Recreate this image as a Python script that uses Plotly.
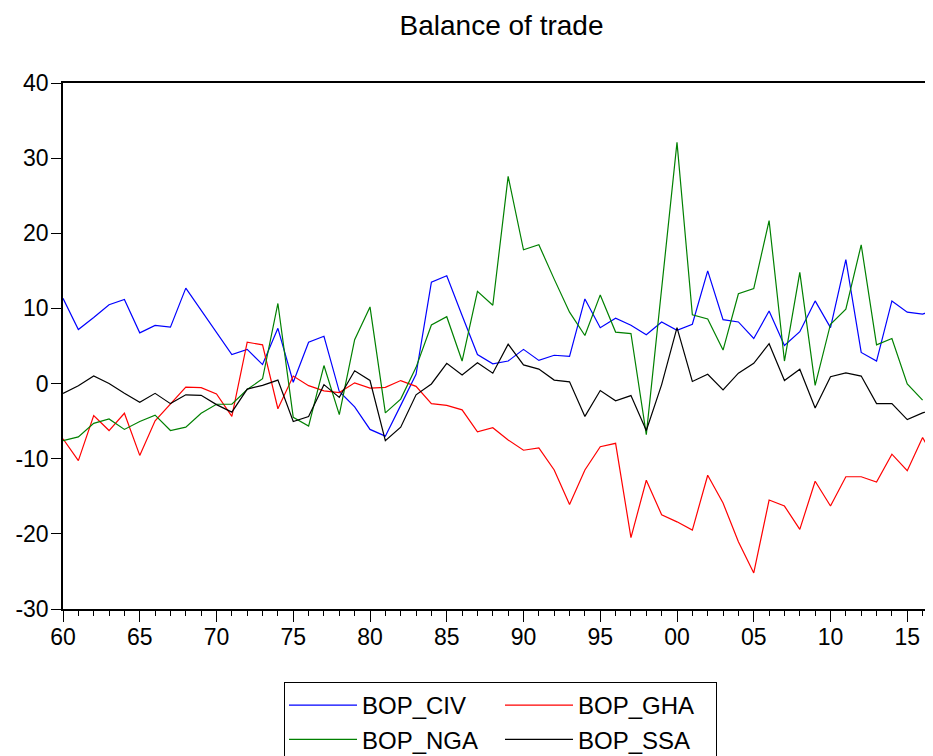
import plotly.graph_objects as go

years = list(range(1960, 2018))

bop_civ = [11.35, 7.2, 8.8, 10.5, 11.2, 6.75, 7.75, 7.5, 12.7, 9.8,
           6.85, 3.85, 4.55, 2.53, 7.35, 0.18, 5.5, 6.3, -1.06, -3.1,
           -6.1, -7.0, -2.9, 1.24, 13.5, 14.34, 9.05, 3.86, 2.62, 3.0,
           4.55, 3.08, 3.77, 3.63, 11.26, 7.44, 8.7, 7.77, 6.5, 8.2,
           7.1, 7.9, 15.0, 8.5, 8.2, 6.0, 9.65, 5.06, 6.9, 11.0,
           7.44, 16.5, 4.14, 3.0, 11.0, 9.5, 9.24, 10.0]

bop_gha = [-7.35, -10.25, -4.27, -6.25, -3.95, -9.56, -4.96, -2.67, -0.46, -0.55,
           -1.38, -4.37, 5.5, 5.15, -3.35, 1.0, -0.28, -0.97, -1.2, 0.1,
           -0.6, -0.5, 0.4, -0.37, -2.67, -2.9, -3.5, -6.43, -5.88, -7.5,
           -8.87, -8.55, -11.5, -16.1, -11.5, -8.4, -7.95, -20.5, -12.87, -17.46,
           -18.4, -19.5, -12.2, -15.9, -21.05, -25.2, -15.5, -16.3, -19.4, -13.0,
           -16.3, -12.4, -12.4, -13.1, -9.4, -11.6, -7.17, -10.9]

bop_nga = [-7.6, -7.1, -5.3, -4.7, -6.1, -5.05, -4.2, -6.25, -5.8, -3.95,
           -2.75, -2.75, -0.8, 0.64, 10.66, -4.5, -5.65, 2.4, -4.14, 5.84,
           10.2, -3.9, -2.07, 2.16, 7.8, 8.9, 3.0, 12.27, 10.43, 27.57,
           17.8, 18.47, 13.9, 9.5, 6.4, 11.8, 6.85, 6.66, -6.8, 12.6,
           32.1, 9.15, 8.6, 4.46, 11.95, 12.64, 21.7, 3.0, 14.8, -0.23,
           7.9, 9.9, 18.47, 5.15, 6.0, -0.05, -2.2, None]

bop_ssa = [-1.3, -0.28, 1.0, 0.0, -1.3, -2.5, -1.3, -2.67, -1.5, -1.56,
           -2.8, -3.8, -0.74, -0.23, 0.46, -5.05, -4.4, -0.14, -1.84, 1.7,
           0.41, -7.6, -5.8, -1.5, -0.05, 2.7, 1.15, 2.76, 1.38, 5.24,
           2.48, 1.93, 0.46, 0.23, -4.37, -0.92, -2.3, -1.6, -6.25, -0.14,
           7.44, 0.28, 1.24, -0.83, 1.38, 2.7, 5.3, 0.41, 1.9, -3.26,
           0.92, 1.42, 1.0, -2.67, -2.67, -4.8, -3.9, -3.3]

x_tick_years = list(range(1960, 2020, 5))
x_tick_labels = ["60", "65", "70", "75", "80", "85", "90", "95", "00", "05", "10", "15"]
y_tick_values = [-30, -20, -10, 0, 10, 20, 30, 40]
y_tick_labels = ["-30", "-20", "-10", "0", "10", "20", "30", "40"]

# (name, values, colour, legend column)
series = [
    ("BOP_CIV", bop_civ, "#0000FF", "col1"),
    ("BOP_GHA", bop_gha, "#FF0000", "col2"),
    ("BOP_NGA", bop_nga, "#008000", "col1"),
    ("BOP_SSA", bop_ssa, "#000000", "col2"),
]

FONT = "Liberation Sans, Arial, sans-serif"

# page body has an 8px margin, so figure coordinates are screen coordinates minus 8
L, T, B = 55, 75, 155
PLOT_W = 933 - L
PLOT_H = 756 - T - B
PX_PER_YEAR = 15.35

fig = go.Figure()
for name, vals, color, grp in series:
    fig.add_trace(go.Scatter(x=years, y=vals, mode="lines", name=name,
                             legendgroup=grp,
                             line=dict(color=color, width=1.2)))

fig.update_layout(
    width=933, height=756,
    margin=dict(l=L, r=0, t=T, b=B, autoexpand=False),
    paper_bgcolor="white", plot_bgcolor="white",
    font=dict(family=FONT, size=23, color="black"),
    title=dict(text="Balance of trade", x=493.5 / 933, xref="container", xanchor="center",
               y=1 - 17 / 756, yref="container", yanchor="middle",
               font=dict(family=FONT, size=28, color="black")),
    showlegend=True,
    legend=dict(orientation="h", traceorder="grouped", tracegroupgap=0,
                x=(276 - L) / PLOT_W, xanchor="left",
                y=-(674 - (756 - B)) / PLOT_H, yanchor="top",
                bordercolor="black", borderwidth=1,
                entrywidth=133, entrywidthmode="pixels", itemwidth=68,
                font=dict(family=FONT, size=24, color="black")),
)

fig.update_xaxes(
    range=[1960, 1960 + PLOT_W / PX_PER_YEAR], tickvals=x_tick_years, ticktext=x_tick_labels,
    ticks="outside", ticklen=11, tickwidth=1, tickcolor="black",
    ticklabelstandoff=-4,
    showline=True, linecolor="black", linewidth=1.5, mirror=True,
    showgrid=False, zeroline=False,
    minor=dict(dtick=1, tick0=1960, ticks="outside", ticklen=5,
               tickwidth=1, tickcolor="black", showgrid=False),
    tickfont=dict(family=FONT, size=23, color="black"),
)
fig.update_yaxes(
    range=[-30, 40], tickvals=y_tick_values, ticktext=y_tick_labels,
    ticks="outside", ticklen=10, tickwidth=1, tickcolor="black",
    ticklabelstandoff=-2,
    showline=True, linecolor="black", linewidth=1.5,
    showgrid=False, zeroline=False,
    tickfont=dict(family=FONT, size=23, color="black"),
)

fig.write_html("out.html")
